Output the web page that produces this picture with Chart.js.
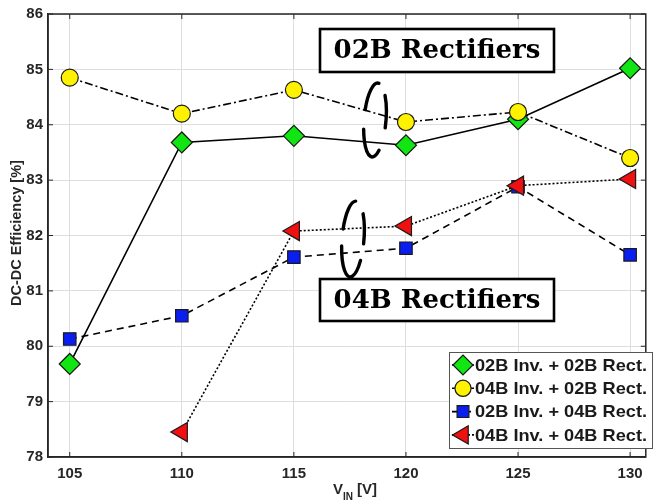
<!DOCTYPE html>
<html><head><meta charset="utf-8">
<script src="https://cdn.jsdelivr.net/npm/chart.js@4.4.0/dist/chart.umd.min.js"></script>
<style>html,body{margin:0;padding:0;background:#fff;}#wrap{width:658px;height:504px;position:relative;}</style>
</head><body><div id="wrap"><canvas id="c" width="658" height="504"></canvas></div>
<script>
// ---- data ----
const vin = [105, 110, 115, 120, 125, 130];
const inv02rect02 = [79.68, 83.68, 83.80, 83.63, 84.10, 85.02];
const inv04rect02 = [84.85, 84.20, 84.63, 84.05, 84.23, 83.40];
const inv02rect04 = [80.13, 80.55, 81.61, 81.77, 82.88, 81.65];
const inv04rect04 = [null, 78.45, 82.08, 82.17, 82.90, 83.02];
const seriesLabels = ['02B Inv. + 02B Rect.', '04B Inv. + 02B Rect.', '02B Inv. + 04B Rect.', '04B Inv. + 04B Rect.'];
const xTicks = [105, 110, 115, 120, 125, 130];
const yTicks = [78, 79, 80, 81, 82, 83, 84, 85, 86];
const groupLabels = ['02B Rectifiers', '04B Rectifiers'];
const yTitle = 'DC-DC Efficiency [%]';
const xTitleMain = 'V', xTitleSub = 'IN', xTitleUnit = ' [V]';

const FONT = "'Liberation Sans', Arial, sans-serif";
const AX = '#262626';
const pts = arr => vin.map((x, i) => ({x, y: arr[i]})).filter(p => p.y !== null);

const datasets = [
  {label: seriesLabels[0], data: pts(inv02rect02), borderColor: '#000', borderWidth: 1.6, borderDash: [],
   pointStyle: 'rectRot', pointRadius: 10.5, pointRotation: 0, pointBackgroundColor: '#12e612', order: 4},
  {label: seriesLabels[1], data: pts(inv04rect02), borderColor: '#000', borderWidth: 1.6, borderDash: [8, 3, 2, 3],
   pointStyle: 'circle', pointRadius: 8.5, pointRotation: 0, pointBackgroundColor: '#fff200', order: 3},
  {label: seriesLabels[2], data: pts(inv02rect04), borderColor: '#000', borderWidth: 1.6, borderDash: [7, 5],
   pointStyle: 'rect', pointRadius: 8.8, pointRotation: 0, pointBackgroundColor: '#0a1ef0', order: 2},
  {label: seriesLabels[3], data: pts(inv04rect04), borderColor: '#000', borderWidth: 1.6, borderDash: [2, 2],
   pointStyle: 'triangle', pointRadius: 11, pointRotation: -90, pointBackgroundColor: '#f01010', order: 1}
];
datasets.forEach(d => { d.pointBorderColor = '#1a1a1a'; d.pointBorderWidth = 1.2; d.fill = false; d.tension = 0; d.pointHoverRadius = d.pointRadius; });

function ellipseSegs(ctx, cx, cy, rx, ry, segs) {
  ctx.save();
  ctx.strokeStyle = '#000'; ctx.lineWidth = 3.4; ctx.lineCap = 'round'; ctx.setLineDash([]);
  segs.forEach(([a, b]) => {
    ctx.beginPath();
    ctx.ellipse(cx, cy, rx, ry, 0.08, a * Math.PI / 180, b * Math.PI / 180);
    ctx.stroke();
  });
  ctx.restore();
}

const decor = {
  id: 'decor',
  afterDatasetsDraw(chart) {
    const ctx = chart.ctx, a = chart.chartArea;
    const xs = chart.scales.x, ys = chart.scales.y;
    ctx.save();
    ctx.strokeStyle = AX; ctx.lineWidth = 1.5; ctx.setLineDash([]);
    ctx.strokeRect(a.left, a.top, a.right - a.left, a.bottom - a.top);
    ctx.lineWidth = 1;
    xTicks.forEach(v => { const x = xs.getPixelForValue(v);
      ctx.beginPath(); ctx.moveTo(x, a.bottom); ctx.lineTo(x, a.bottom - 5); ctx.moveTo(x, a.top); ctx.lineTo(x, a.top + 5); ctx.stroke(); });
    yTicks.forEach(v => { const y = ys.getPixelForValue(v);
      ctx.beginPath(); ctx.moveTo(a.left, y); ctx.lineTo(a.left + 5, y); ctx.moveTo(a.right, y); ctx.lineTo(a.right - 5, y); ctx.stroke(); });

    ellipseSegs(ctx, 375, 120, 11, 37, [[195, 275], [317, 371], [54, 164]]);
    ellipseSegs(ctx, 353, 239, 11, 38, [[194, 268], [317, 366], [33, 168]]);

    const boxes = [[320, 29, 234, 43], [320, 279, 234, 42]];
    boxes.forEach((b, i) => {
      ctx.fillStyle = '#fff'; ctx.fillRect(b[0], b[1], b[2], b[3]);
      ctx.strokeStyle = '#000'; ctx.lineWidth = 2.6; ctx.strokeRect(b[0], b[1], b[2], b[3]);
      let fs = 27;
      ctx.font = `bold ${fs}px 'DejaVu Serif', serif`;
      while (ctx.measureText(groupLabels[i]).width > 210 && fs > 10) { fs -= 0.5; ctx.font = `bold ${fs}px 'DejaVu Serif', serif`; }
      ctx.fillStyle = '#000'; ctx.textAlign = 'center'; ctx.textBaseline = 'middle';
      ctx.fillText(groupLabels[i], b[0] + b[2] / 2, b[1] + b[3] / 2 + 1);
    });

    const lx = 449, ly = 352, lw = 203, lh = 96;
    ctx.fillStyle = '#fff'; ctx.fillRect(lx, ly, lw, lh);
    ctx.strokeStyle = '#555'; ctx.lineWidth = 1; ctx.strokeRect(lx + 0.5, ly + 0.5, lw, lh);
    chart.data.datasets.forEach((d, i) => {
      const y = ly + 13 + i * 23.3;
      ctx.strokeStyle = d.borderColor; ctx.lineWidth = d.borderWidth; ctx.setLineDash(d.borderDash);
      ctx.beginPath(); ctx.moveTo(lx + 3, y); ctx.lineTo(lx + 25, y); ctx.stroke();
      ctx.setLineDash([]);
      ctx.fillStyle = d.pointBackgroundColor; ctx.strokeStyle = d.pointBorderColor; ctx.lineWidth = d.pointBorderWidth;
      Chart.helpers.drawPoint(ctx, {pointStyle: d.pointStyle, radius: d.pointRadius * 0.95, rotation: d.pointRotation, borderWidth: d.pointBorderWidth}, lx + 14, y);
      ctx.fillStyle = '#1a1a1a'; ctx.font = `bold 17px ${FONT}`; ctx.textAlign = 'left'; ctx.textBaseline = 'middle';
      const w = ctx.measureText(d.label).width;
      const sx = 172 / w;
      ctx.save(); ctx.translate(lx + 26, y + 1); ctx.scale(sx, 1); ctx.fillText(d.label, 0, 0); ctx.restore();
    });
    ctx.restore();
  },
  afterDraw(chart) {
    const ctx = chart.ctx;
    ctx.save();
    ctx.fillStyle = AX;
    ctx.translate(17, 233); ctx.rotate(-Math.PI / 2);
    ctx.font = `bold 14.5px ${FONT}`; ctx.textAlign = 'center'; ctx.textBaseline = 'middle';
    ctx.fillText(yTitle, 0, 0);
    ctx.setTransform(1, 0, 0, 1, 0, 0);
    ctx.textAlign = 'left'; ctx.textBaseline = 'alphabetic';
    ctx.font = `bold 15px ${FONT}`; const wV = ctx.measureText(xTitleMain).width;
    ctx.font = `bold 10px ${FONT}`; const wS = ctx.measureText(xTitleSub).width;
    ctx.font = `bold 15px ${FONT}`; const wU = ctx.measureText(xTitleUnit).width;
    let x0 = 355 - (wV + wS + wU) / 2;
    ctx.fillText(xTitleMain, x0, 494);
    ctx.font = `bold 10px ${FONT}`; ctx.fillText(xTitleSub, x0 + wV, 500);
    ctx.font = `bold 15px ${FONT}`; ctx.fillText(xTitleUnit, x0 + wV + wS, 494);
    ctx.restore();
  }
};

new Chart(document.getElementById('c'), {
  type: 'line',
  data: {datasets},
  options: {
    responsive: false, animation: false, events: [],
    layout: {padding: {top: 13, right: 5, left: 0, bottom: 0}},
    plugins: {legend: {display: false}, tooltip: {enabled: false}},
    scales: {
      x: {
        type: 'linear', min: 104.03, max: 130.7,
        afterBuildTicks: s => { s.ticks = xTicks.map(v => ({value: v})); },
        afterFit: s => { s.height = 47; },
        grid: {color: '#dedede', lineWidth: 1, drawTicks: false},
        border: {display: true, color: AX, width: 1.5},
        ticks: {padding: 8, color: AX, font: {family: FONT, size: 15, weight: 'bold'}, maxRotation: 0, autoSkip: false}
      },
      y: {
        type: 'linear', min: 78, max: 86,
        afterBuildTicks: s => { s.ticks = yTicks.map(v => ({value: v})); },
        afterFit: s => { s.width = 48; },
        grid: {color: '#dedede', lineWidth: 1, drawTicks: false},
        border: {display: true, color: AX, width: 1.5},
        ticks: {padding: 5, color: AX, font: {family: FONT, size: 15, weight: 'bold'}, autoSkip: false}
      }
    }
  },
  plugins: [decor]
});
</script></body></html>
